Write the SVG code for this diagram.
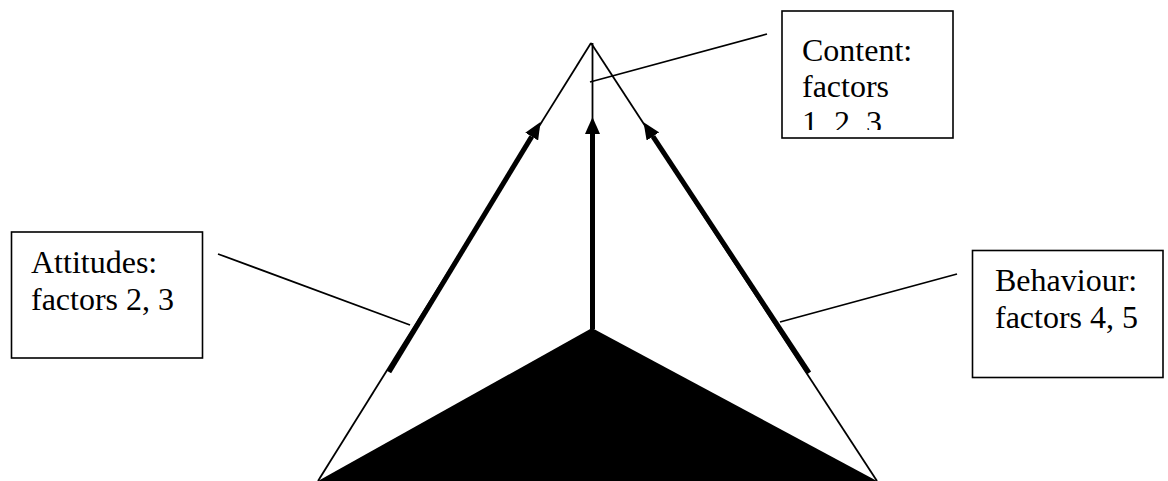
<svg xmlns="http://www.w3.org/2000/svg" width="1168" height="481" viewBox="0 0 1168 481">
  <style>
    .box { fill: #ffffff; stroke: #000000; stroke-width: 1.6; }
    .lbl { font-family: "Liberation Serif", "Times New Roman", serif; font-size: 32px; fill: #000000; }
    .thin { stroke: #000000; stroke-width: 1.8; fill: none; }
    .thick { stroke: #000000; stroke-width: 5; fill: none; }
  </style>
  <defs>
    <marker id="ah" viewBox="0 0 17 15" markerWidth="17" markerHeight="15" refX="0" refY="7.5" orient="auto" markerUnits="userSpaceOnUse">
      <path d="M0,0 L17,7.5 L0,15 z" fill="#000000"/>
    </marker>
    <clipPath id="contentClip">
      <rect x="782" y="11" width="171" height="119"/>
    </clipPath>
  </defs>
  <rect width="1168" height="481" fill="#ffffff"/>

  <g id="pyramid">
    <polygon points="318,481 592,328 877,481" fill="#000000"/>
    <line class="thin" x1="591" y1="43" x2="318" y2="481"/>
    <line class="thin" x1="591" y1="43" x2="877" y2="481"/>
    <line class="thin" x1="592.5" y1="43" x2="592.5" y2="133"/>
  </g>

  <g id="connectors">
    <line class="thick" x1="389" y1="372" x2="531.7" y2="136.6" marker-end="url(#ah)"/>
    <line class="thick" x1="809" y1="373" x2="652.9" y2="136.4" marker-end="url(#ah)"/>
    <line class="thick" x1="592.5" y1="329" x2="592.5" y2="134" marker-end="url(#ah)"/>
    <line class="thin" x1="590" y1="82" x2="767" y2="34"/>
    <line class="thin" x1="218" y1="254" x2="410" y2="325"/>
    <line class="thin" x1="780" y1="322" x2="957" y2="274"/>
  </g>

  <g id="content">
    <rect class="box" x="782" y="11" width="171" height="127"/>
    <g clip-path="url(#contentClip)">
      <text class="lbl" x="802" y="61">Content:</text>
      <text class="lbl" x="802" y="97">factors</text>
      <text class="lbl" x="802" y="133">1, 2, 3</text>
    </g>
  </g>

  <g id="attitudes">
    <rect class="box" x="11.5" y="232" width="191" height="126"/>
    <text class="lbl" x="31" y="273">Attitudes:</text>
    <text class="lbl" x="31" y="310">factors 2, 3</text>
  </g>

  <g id="behaviour">
    <rect class="box" x="972.5" y="250.5" width="190.5" height="127"/>
    <text class="lbl" x="995" y="291">Behaviour:</text>
    <text class="lbl" x="995" y="328">factors 4, 5</text>
  </g>
</svg>
